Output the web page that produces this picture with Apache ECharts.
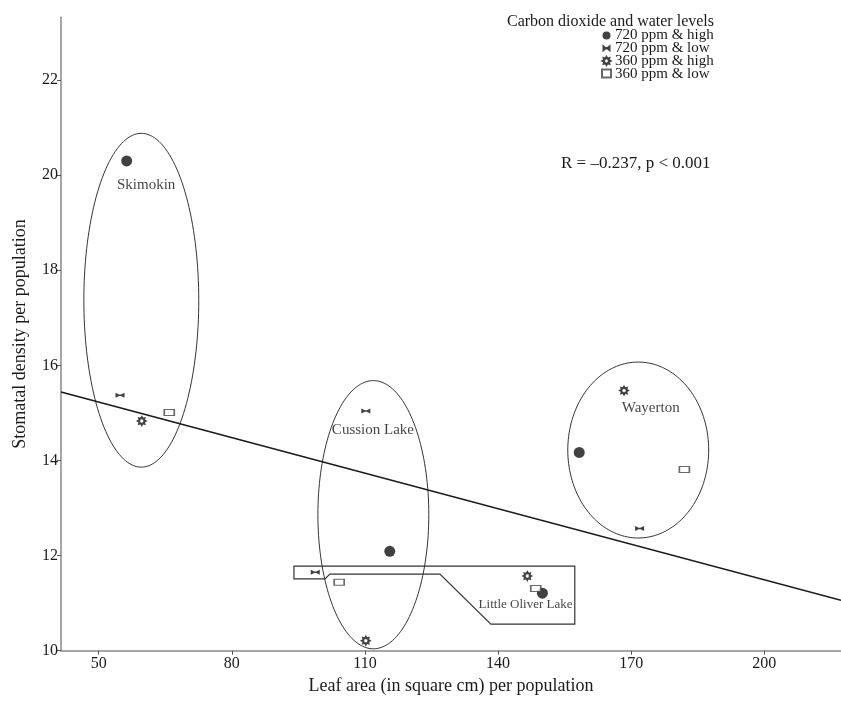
<!DOCTYPE html>
<html>
<head>
<meta charset="utf-8">
<style>
  html, body { margin: 0; padding: 0; background: #fff; }
  #chart { width: 841px; height: 702px; }
</style>
<script src="https://cdn.jsdelivr.net/npm/echarts@6/dist/echarts.min.js"></script>
</head>
<body>
<div id="chart"></div>
<script>
const FONT = "'Liberation Serif', 'Times New Roman', serif";
const INK = '#1a1a1a';

// treatment groups, [leaf area, stomatal density]
const seriesNames = ['720 ppm & high', '720 ppm & low', '360 ppm & high', '360 ppm & low'];
const hiCo2HighWater = [[56.3, 20.30], [115.6, 12.09], [150.0, 11.21], [158.3, 14.17]];
const hiCo2LowWater = [[54.8, 15.37], [110.2, 15.04], [98.8, 11.65], [171.9, 12.57]];
const loCo2HighWater = [[59.7, 14.83], [110.2, 10.21], [146.6, 11.57], [168.4, 15.47]];
const loCo2LowWater = [[65.9, 15.01], [104.2, 11.44], [148.5, 11.31], [182.0, 13.81]];

// fitted line end points
const regLine = [[41.5, 15.44], [217.3, 11.06]];

// population outlines: [cx, cy, rx, ry]
const groupEllipses = [[59.6, 17.37, 12.95, 3.51], [111.9, 12.86, 12.5, 2.82], [171.6, 14.22, 15.88, 1.85]];
const oliverOutline = [[94.0, 11.78], [157.3, 11.78], [157.3, 10.56], [138.4, 10.56], [126.9, 11.61],
  [102.1, 11.61], [101.0, 11.51], [94.0, 11.51]];

const siteNames = ['Skimokin', 'Cussion Lake', 'Wayerton', 'Little Oliver Lake'];
const sitePos = [[60.7, 19.80], [111.8, 14.65], [174.4, 15.10], [146.2, 10.97]];

const xTicks = [50, 80, 110, 140, 170, 200];
const yTicks = [10, 12, 14, 16, 18, 20, 22];

const BOWTIE = 'path://M0,0L0,10L4,6.5L6,6.5L10,10L10,0L6,3.5L4,3.5Z';

// small 8-point gear used for the 360 ppm & high marker
function starPath(points) {
  const pts = [];
  for (let i = 0; i < points * 2; i++) {
    const r = i % 2 ? 6.2 : 10;
    const a = Math.PI * i / points;
    pts.push((10 + r * Math.sin(a)).toFixed(2) + ',' + (10 - r * Math.cos(a)).toFixed(2));
  }
  return 'path://M' + pts.join('L') + 'Z';
}

const chart = echarts.init(document.getElementById('chart'));

const axisCommon = {
  axisLine: { lineStyle: { color: '#888', width: 1.5 } },
  axisTick: { show: true, length: 4, lineStyle: { color: '#555' } },
  splitLine: { show: false },
  nameTextStyle: { fontFamily: FONT, fontSize: 18, color: INK },
};

chart.setOption({
  animation: false,
  textStyle: { fontFamily: FONT, color: INK },
  title: [
    { text: 'Carbon dioxide and water levels', right: 122, top: 9,
      textStyle: { fontFamily: FONT, fontSize: 16, fontWeight: 'normal', color: INK } },
    { text: 'R = \u20130.237, p < 0.001', left: 556, top: 150,
      textStyle: { fontFamily: FONT, fontSize: 17, fontWeight: 'normal', color: INK } },
  ],
  legend: {
    data: seriesNames,
    orient: 'vertical',
    left: 601, top: 28, padding: 0,
    itemWidth: 9, itemHeight: 8, itemGap: -2.3,
    textStyle: { fontFamily: FONT, fontSize: 15, color: INK, padding: [0, 0, 0, -1] },
  },
  grid: { left: 61, right: 0, top: 17.3, bottom: 51.3, containLabel: false },
  xAxis: Object.assign({}, axisCommon, {
    type: 'value', min: 41.5, max: 217.3,
    name: 'Leaf area (in square cm) per population',
    nameLocation: 'middle', nameGap: 27,
    axisTick: Object.assign({}, axisCommon.axisTick, { customValues: xTicks }),
    axisLabel: { customValues: xTicks, fontFamily: FONT, fontSize: 16, color: INK, margin: 5 },
  }),
  yAxis: Object.assign({}, axisCommon, {
    type: 'value', min: 10, max: 23.32,
    name: 'Stomatal density per population',
    nameLocation: 'middle', nameGap: 32,
    axisTick: Object.assign({}, axisCommon.axisTick, { customValues: yTicks }),
    axisLabel: { customValues: yTicks, fontFamily: FONT, fontSize: 16, color: INK, margin: 3 },
  }),
  series: [
    {
      type: 'custom', name: 'outline', silent: true, z: 1,
      data: groupEllipses,
      renderItem(params, api) {
        const c = api.coord([api.value(0), api.value(1)]);
        const s = api.size([api.value(2), api.value(3)]);
        const pts = [];
        for (let i = 0; i < 160; i++) {
          const t = Math.PI * 2 * i / 160;
          pts.push([c[0] + s[0] * Math.cos(t), c[1] + s[1] * Math.sin(t)]);
        }
        return { type: 'polygon', shape: { points: pts },
          style: { fill: 'none', stroke: '#333', lineWidth: 1 } };
      },
    },
    {
      type: 'custom', name: 'oliver', silent: true, z: 1,
      data: [0],
      renderItem(params, api) {
        return { type: 'polygon', shape: { points: oliverOutline.map(p => api.coord(p)) },
          style: { fill: 'none', stroke: '#333', lineWidth: 1.2 } };
      },
    },
    {
      type: 'line', name: 'fit', data: regLine, symbol: 'none', silent: true, z: 2,
      lineStyle: { color: INK, width: 1.6 },
    },
    {
      type: 'scatter', name: seriesNames[0], data: hiCo2HighWater, z: 3,
      symbol: 'circle', symbolSize: 11, itemStyle: { color: '#111' },
    },
    {
      type: 'scatter', name: seriesNames[1], data: hiCo2LowWater, z: 3,
      symbol: BOWTIE, symbolSize: [9, 5], itemStyle: { color: '#111' },
    },
    {
      type: 'scatter', name: seriesNames[2], data: loCo2HighWater, z: 3,
      symbol: starPath(8), symbolSize: 8,
      itemStyle: { color: '#fff', borderColor: '#111', borderWidth: 1.8 },
    },
    {
      type: 'scatter', name: seriesNames[3], data: loCo2LowWater, z: 3,
      symbol: 'rect', symbolSize: [10, 6],
      itemStyle: { color: '#fff', borderColor: '#444', borderWidth: 1.3 },
    },
    {
      type: 'scatter', name: 'sites', silent: true, z: 4,
      data: siteNames.map((n, i) => ({ name: n, value: sitePos[i] })),
      symbolSize: 0,
      label: {
        show: true, position: 'inside', color: '#111', fontFamily: FONT,
        formatter: p => p.name,
        fontSize: 15,
      },
      labelLayout(params) {
        return params.dataIndex === 3 ? { fontSize: 13 } : {};
      },
    },
  ],
});
</script>
</body>
</html>
